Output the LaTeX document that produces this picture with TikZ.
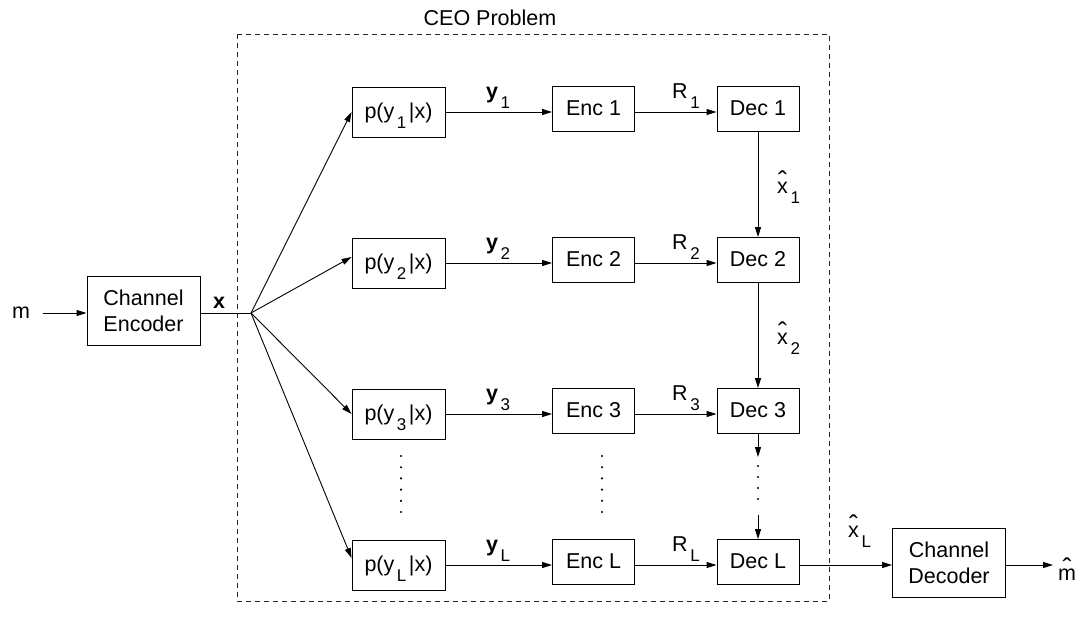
\documentclass[tikz,border=0pt]{standalone}
\usepackage{fontspec}
\setmainfont{Liberation Sans}
\usetikzlibrary{arrows.meta}
\newcommand\sbs[1]{\hspace{0.12em}\raisebox{-0.48em}{\fontsize{17}{17}\selectfont #1}\hspace{0.12em}}
\newcommand\hatof[1]{\ooalign{#1\cr\hidewidth\raisebox{3pt}{\fontsize{27}{27}\selectfont\char"02C6}\hidewidth\cr}}
\begin{document}
\begin{tikzpicture}[x=1pt,y=-1pt, font=\fontsize{21.5}{26}\selectfont,
 arr/.style={-{Triangle[length=10pt,width=6pt]}, line width=0.9pt},
 ln/.style={line width=0.9pt},
 pbox/.style={draw, line width=0.9pt, minimum width=93pt, minimum height=50pt, inner sep=0pt, text height=15pt, text depth=3pt},
 cbox/.style={draw, line width=0.9pt, minimum width=82pt, minimum height=45pt, inner sep=0pt, text height=15pt, text depth=3pt},
 chbox/.style={draw, line width=0.9pt, minimum width=113pt, minimum height=69pt, align=center, inner sep=0pt},
 lbl/.style={inner sep=0pt, anchor=base},
 dashbox/.style={line width=0.8pt, black!85, dash pattern=on 5pt off 4pt},
 dotmark/.style={fill, black}
]
\useasboundingbox (0,0) rectangle (1083,629);
% rows
\coordinate (r1) at (0,112);
\coordinate (r2) at (0,263);
\coordinate (r3) at (0,414);
\coordinate (rL) at (0,565);

% left part
\node[inner xsep=13pt, inner ysep=0pt] (m) at (21,313) {m};
\node[chbox] (enc) at (143.5,310.5) {Channel\\Encoder};
\coordinate (split) at (251,313);
\draw[arr] (m.east) -- (m.east -| enc.west);
\draw[ln] (enc.east |- split) -- (split);
\node[lbl] (xl) at (219,308) {\bfseries x};

% CEO frame
\draw[dashbox] (237,34) rectangle (829,601);
\node (ceo) at (490,18) {CEO Problem};

% p boxes
\node[pbox] (p1) at (398.5,112) {p(y\sbs{1}|x)};
\node[pbox] (p2) at (398.5,263) {p(y\sbs{2}|x)};
\node[pbox] (p3) at (398.5,414) {p(y\sbs{3}|x)};
\node[pbox] (pL) at (398.5,565) {p(y\sbs{L}|x)};

% encoders
\node[cbox] (e1) at (593.5,109) {Enc 1};
\node[cbox] (e2) at (593.5,260) {Enc 2};
\node[cbox] (e3) at (593.5,411) {Enc 3};
\node[cbox] (eL) at (593.5,562) {Enc L};

% decoders
\node[cbox] (d1) at (758,109) {Dec 1};
\node[cbox] (d2) at (758,260) {Dec 2};
\node[cbox] (d3) at (758,411) {Dec 3};
\node[cbox] (dL) at (758,562) {Dec L};

% channel decoder
\node[chbox] (cdec) at (949,562.5) {Channel\\Decoder};
\node[lbl, anchor=base west, inner xsep=5pt] (mhat) at (1053,580) {\hatof{m}};

% split arrows
\draw[arr] (split) -- (p1.west);
\draw[arr] (split) -- ([yshift=6pt]p2.west);
\draw[arr] (split) -- (p3.west);
\draw[arr] (split) -- ([yshift=7pt]pL.west);

% row arrows
\draw[arr] (p1.east |- r1) -- (e1.west |- r1);
\draw[arr] (e1.east |- r1) -- (d1.west |- r1);
\draw[arr] (p2.east |- r2) -- (e2.west |- r2);
\draw[arr] (e2.east |- r2) -- (d2.west |- r2);
\draw[arr] (p3.east |- r3) -- (e3.west |- r3);
\draw[arr] (e3.east |- r3) -- (d3.west |- r3);
\draw[arr] (pL.east |- rL) -- (eL.west |- rL);
\draw[arr] (eL.east |- rL) -- (dL.west |- rL);
\draw[arr] (dL.east |- rL) -- (cdec.west |- rL);
\draw[arr] (cdec.east |- rL) -- (mhat.west |- rL);

% labels
\node[lbl] (y1) at (498,98) {{\bfseries y}\sbs{1}};
\node[lbl] (y2) at (498,249) {{\bfseries y}\sbs{2}};
\node[lbl] (y3) at (498,400) {{\bfseries y}\sbs{3}};
\node[lbl] (yL) at (498,551) {{\bfseries y}\sbs{L}};
\node[lbl] (R1) at (686,98) {R\sbs{1}};
\node[lbl] (R2) at (686,249) {R\sbs{2}};
\node[lbl] (R3) at (686,400) {R\sbs{3}};
\node[lbl] (RL) at (686,551) {R\sbs{L}};

% decoder chain
\draw[arr] (d1) -- (d2);
\draw[arr] (d2) -- (d3);
\coordinate (d3end) at (758,457);
\coordinate (dLs) at (758,515);
\draw[arr] (d3.south) -- (d3.south |- d3end);
\draw[arr] (dLs) -- (dL.north);
\node[lbl, anchor=base west] (xh1) at (777,193) {\hatof{x}\sbs{1}};
\node[lbl, anchor=base west] (xh2) at (777,344) {\hatof{x}\sbs{2}};
\node[lbl, anchor=base west] (xhL) at (848,537) {\hatof{x}\sbs{L}};

% dots
\foreach \k in {0,...,5} {
  \fill[dotmark] (401,456+11.2*\k) circle (1.2pt);
  \fill[dotmark] (602,456+11.2*\k) circle (1.2pt);
}
\foreach \yy in {466,477,488,499} {
  \fill[dotmark] (758,\yy) circle (1.2pt);
}
\end{tikzpicture}
\end{document}
